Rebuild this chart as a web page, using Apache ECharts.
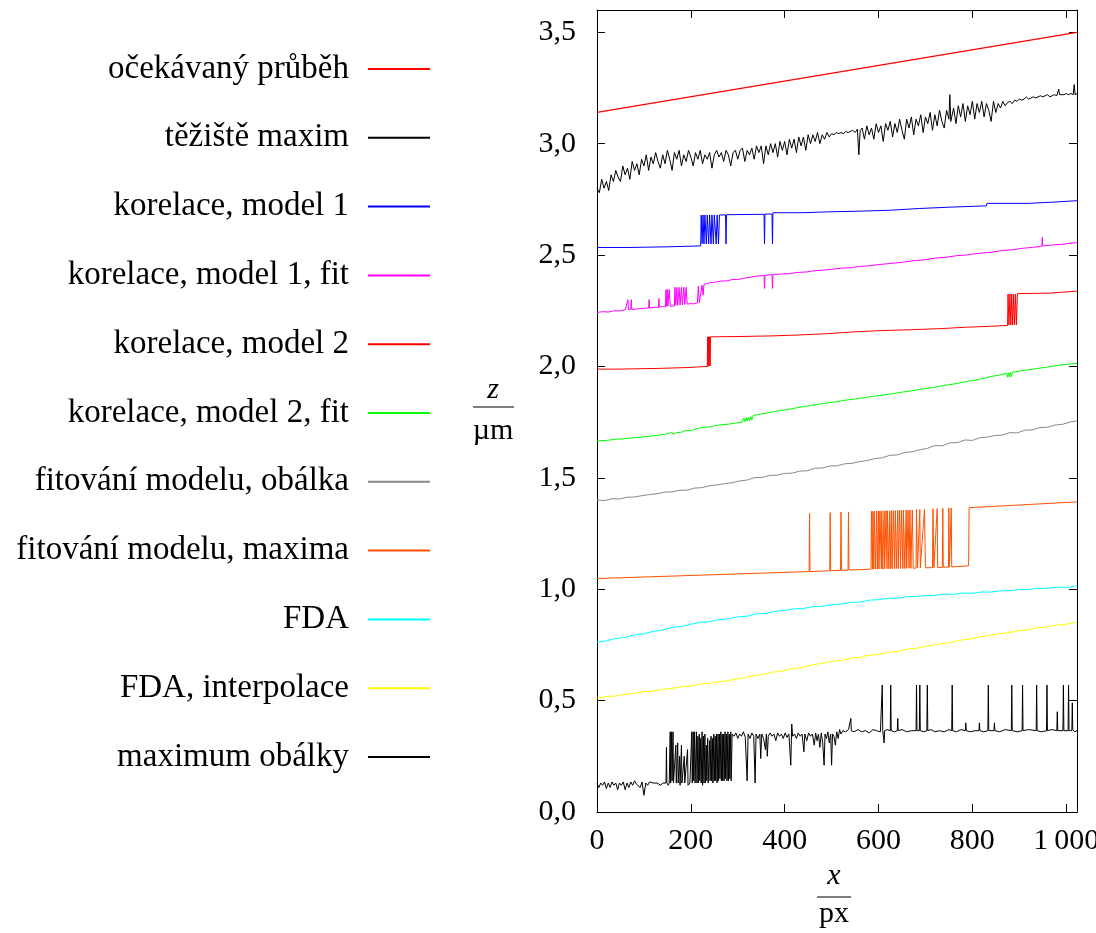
<!DOCTYPE html>
<html>
<head>
<meta charset="utf-8">
<script src="https://cdn.jsdelivr.net/npm/echarts@6/dist/echarts.min.js"></script>
<style>html,body{margin:0;padding:0;background:#fff;overflow:hidden}#c{width:1096px;height:933px}</style>
</head>
<body>
<div id="c"></div>
<script>
// ---- data (x in px, z in µm) ----
const seriesNames = ["očekávaný průběh","těžiště maxim","korelace, model 1","korelace, model 1, fit","korelace, model 2","korelace, model 2, fit","fitování modelu, obálka","fitování modelu, maxima","FDA","FDA, interpolace","maximum obálky"];
const seriesColors = ["#ff0000","#000000","#0000ff","#ff00ff","#ff0000","#00ff00","#888888","#ff5000","#00ffff","#ffff00","#000000"];
const xTickLabels = {1000: "1\u2009000"};

const expected = [[0,3.14],[1023,3.50]];
const tezisteMaxim = [[0,2.80],[5,2.78],[10,2.84],[15,2.80],[20,2.83],[25,2.79],[30,2.86],[35,2.83],[40,2.88],[45,2.85],[50,2.83],[55,2.90],[60,2.86],[65,2.89],[70,2.84],[75,2.92],[80,2.88],[85,2.91],[90,2.86],[95,2.93],[100,2.90],[105,2.95],[110,2.88],[115,2.94],[120,2.91],[125,2.96],[130,2.92],[135,2.89],[140,2.95],[145,2.91],[150,2.97],[155,2.93],[160,2.88],[165,2.96],[170,2.93],[175,2.97],[180,2.90],[185,2.95],[190,2.92],[195,2.97],[200,2.94],[205,2.90],[210,2.96],[215,2.93],[220,2.97],[225,2.91],[230,2.95],[235,2.93],[240,2.96],[245,2.89],[250,2.95],[255,2.97],[260,2.94],[265,2.96],[270,2.92],[275,2.97],[280,2.95],[285,2.90],[290,2.96],[295,2.97],[300,2.93],[305,2.97],[310,2.98],[315,2.92],[320,2.97],[325,2.95],[330,2.98],[335,2.93],[340,2.99],[345,2.96],[350,2.99],[355,2.91],[360,2.99],[365,2.95],[370,3.00],[375,2.96],[380,3.00],[385,2.94],[390,3.01],[395,2.97],[400,3.01],[405,2.95],[410,3.02],[415,2.98],[420,3.02],[425,2.96],[430,3.03],[435,2.99],[440,3.03],[445,2.97],[450,3.04],[455,3.00],[460,3.04],[465,3.01],[470,3.05],[475,3.00],[480,3.04],[485,3.02],[490,3.05],[495,3.03],[500,3.045],[505,3.04],[510,3.05],[515,3.045],[520,3.05],[525,3.045],[530,3.055],[535,3.05],[540,3.055],[545,3.06],[550,3.05],[555,3.065],[558,2.95],[561,3.06],[565,3.07],[570,3.02],[575,3.08],[580,3.04],[585,3.07],[590,3.02],[595,3.09],[600,3.05],[605,3.08],[610,3.01],[615,3.09],[620,3.06],[625,3.10],[630,3.03],[635,3.09],[640,3.05],[645,3.11],[650,3.06],[655,3.02],[660,3.11],[665,3.07],[670,3.12],[675,3.04],[680,3.11],[685,3.08],[690,3.13],[695,3.05],[700,3.12],[705,3.09],[710,3.14],[715,3.06],[720,3.13],[725,3.08],[730,3.15],[735,3.10],[740,3.07],[745,3.15],[750,3.11],[752,3.22],[754,3.10],[760,3.16],[765,3.09],[770,3.17],[775,3.12],[780,3.18],[785,3.10],[790,3.17],[795,3.13],[800,3.19],[805,3.11],[810,3.18],[815,3.14],[820,3.19],[825,3.12],[830,3.18],[835,3.15],[840,3.10],[845,3.19],[850,3.14],[855,3.18],[860,3.16],[865,3.19],[870,3.17],[875,3.185],[880,3.19],[885,3.18],[890,3.195],[895,3.19],[900,3.20],[905,3.195],[910,3.20],[915,3.21],[920,3.20],[925,3.205],[930,3.21],[935,3.205],[940,3.21],[945,3.215],[950,3.21],[955,3.215],[960,3.22],[965,3.21],[970,3.215],[975,3.22],[980,3.215],[984,3.245],[986,3.22],[990,3.215],[995,3.22],[1000,3.225],[1005,3.22],[1010,3.225],[1015,3.22],[1017,3.265],[1019,3.22],[1023,3.225]];
const korelaceM1 = [[0,2.534],[68,2.534],[69,2.537],[150,2.537],[151,2.541],[221,2.541],[222,2.679],[224,2.551],[226,2.68],[228,2.55],[230,2.68],[233,2.55],[235,2.68],[238,2.55],[240,2.68],[243,2.55],[245,2.68],[248,2.55],[250,2.68],[254,2.55],[256,2.68],[259,2.55],[261,2.68],[274,2.68],[275,2.55],[276,2.681],[356,2.683],[357,2.55],[358,2.684],[373,2.684],[374,2.55],[375,2.690],[437,2.690],[438,2.694],[494,2.694],[495,2.697],[559,2.697],[560,2.701],[623,2.701],[624,2.709],[687,2.709],[688,2.715],[752,2.715],[753,2.721],[830,2.721],[831,2.732],[919,2.732],[920,2.738],[976,2.738],[977,2.742],[1023,2.744]];
const korelaceM1Fit = [[0,2.242],[12,2.246],[24,2.244],[36,2.250],[48,2.249],[60,2.254],[64,2.253],[66,2.30],[67,2.255],[72,2.256],[73,2.30],[74,2.256],[86,2.258],[98,2.261],[110,2.262],[111,2.30],[112,2.262],[122,2.266],[131,2.265],[132,2.305],[133,2.267],[146,2.268],[147,2.345],[148,2.27],[150,2.345],[151,2.27],[154,2.345],[156,2.27],[165,2.272],[166,2.355],[168,2.274],[170,2.355],[172,2.275],[175,2.355],[177,2.276],[180,2.355],[182,2.277],[185,2.355],[187,2.278],[190,2.355],[192,2.28],[200,2.282],[207,2.281],[214,2.285],[216,2.36],[218,2.287],[224,2.365],[226,2.32],[228,2.368],[240,2.376],[252,2.378],[264,2.383],[276,2.384],[288,2.390],[300,2.390],[312,2.396],[326,2.400],[339,2.405],[356,2.409],[357,2.35],[358,2.409],[373,2.412],[374,2.35],[375,2.412],[392,2.415],[410,2.417],[428,2.422],[446,2.424],[464,2.430],[481,2.432],[500,2.436],[520,2.441],[540,2.443],[560,2.449],[580,2.452],[600,2.457],[624,2.462],[648,2.467],[672,2.474],[696,2.478],[720,2.486],[744,2.490],[766,2.497],[790,2.501],[814,2.508],[838,2.512],[862,2.520],[886,2.524],[909,2.531],[928,2.534],[948,2.540],[949,2.579],[950,2.541],[970,2.545],[990,2.548],[1008,2.553],[1023,2.556]];
const korelaceM2 = [[0,1.988],[46,1.988],[47,1.991],[128,1.991],[129,1.995],[192,1.995],[193,2.000],[235,2.000],[236,2.133],[237,2.000],[238,2.133],[239,2.002],[240,2.133],[241,2.002],[242,2.133],[243,2.134],[292,2.134],[293,2.137],[371,2.137],[372,2.141],[428,2.141],[429,2.147],[489,2.147],[490,2.155],[546,2.155],[547,2.161],[607,2.161],[608,2.165],[671,2.165],[672,2.170],[735,2.170],[736,2.176],[785,2.176],[786,2.180],[835,2.180],[836,2.184],[875,2.184],[876,2.325],[878,2.186],[880,2.325],[882,2.186],[884,2.325],[886,2.186],[888,2.325],[890,2.186],[892,2.325],[894,2.186],[896,2.327],[964,2.329],[965,2.334],[1023,2.338]];
const korelaceM2Fit = [[0,1.666],[20,1.668],[40,1.673],[60,1.676],[80,1.680],[100,1.684],[129,1.691],[150,1.697],[160,1.704],[162,1.695],[170,1.703],[180,1.705],[190,1.713],[192,1.706],[200,1.711],[221,1.726],[240,1.728],[260,1.737],[280,1.741],[300,1.747],[310,1.751],[313,1.768],[315,1.752],[318,1.770],[320,1.754],[323,1.772],[325,1.756],[328,1.775],[330,1.760],[333,1.780],[335,1.783],[360,1.790],[385,1.800],[410,1.808],[435,1.818],[460,1.826],[481,1.834],[505,1.840],[530,1.849],[555,1.855],[580,1.864],[600,1.869],[624,1.876],[648,1.884],[672,1.891],[696,1.900],[720,1.907],[744,1.916],[766,1.923],[790,1.933],[815,1.942],[840,1.955],[860,1.962],[873,1.970],[875,1.952],[877,1.972],[879,1.953],[881,1.973],[883,1.954],[885,1.974],[887,1.975],[910,1.982],[935,1.990],[960,1.997],[985,2.006],[1005,2.010],[1023,2.015]];
const obalkaFit = [[0,1.400],[16,1.398],[32,1.406],[48,1.405],[64,1.413],[80,1.414],[96,1.420],[112,1.425],[128,1.428],[144,1.436],[160,1.437],[176,1.444],[192,1.445],[208,1.454],[224,1.456],[240,1.465],[256,1.468],[272,1.474],[288,1.478],[304,1.486],[320,1.490],[336,1.501],[352,1.502],[368,1.511],[384,1.512],[400,1.520],[416,1.521],[432,1.530],[448,1.532],[464,1.543],[480,1.544],[496,1.553],[512,1.554],[528,1.563],[544,1.565],[560,1.573],[576,1.578],[592,1.586],[608,1.590],[624,1.601],[640,1.603],[656,1.614],[672,1.617],[688,1.626],[704,1.632],[720,1.645],[736,1.644],[752,1.657],[768,1.658],[784,1.670],[800,1.668],[816,1.680],[832,1.683],[848,1.690],[864,1.692],[880,1.703],[896,1.702],[912,1.714],[928,1.715],[944,1.726],[960,1.727],[976,1.737],[992,1.740],[1008,1.750],[1023,1.756]];
const maximaFit = [[0,1.048],[452,1.079],[453,1.340],[454,1.079],[496,1.083],[497,1.344],[498,1.083],[519,1.085],[520,1.346],[521,1.085],[535,1.086],[536,1.347],[537,1.086],[584,1.090],[585,1.35],[587,1.09],[588,1.35],[590,1.09],[591,1.35],[594,1.09],[596,1.351],[598,1.09],[600,1.351],[601,1.091],[603,1.351],[606,1.091],[607,1.352],[609,1.091],[612,1.352],[613,1.091],[616,1.352],[618,1.092],[619,1.352],[622,1.092],[624,1.352],[626,1.092],[628,1.353],[629,1.092],[632,1.353],[634,1.092],[636,1.353],[638,1.093],[641,1.354],[642,1.093],[645,1.354],[647,1.093],[649,1.354],[652,1.093],[653,1.355],[656,1.093],[659,1.355],[660,1.094],[663,1.355],[665,1.094],[667,1.356],[669,1.094],[672,1.356],[674,1.094],[680,1.095],[681,1.358],[683,1.095],[688,1.358],[689,1.096],[698,1.359],[700,1.096],[715,1.097],[716,1.361],[718,1.097],[725,1.362],[726,1.098],[736,1.098],[737,1.363],[738,1.099],[749,1.099],[750,1.364],[751,1.099],[755,1.364],[756,1.100],[792,1.105],[793,1.366],[1023,1.392]];
const fda = [[0,0.762],[20,0.768],[40,0.779],[60,0.784],[80,0.795],[100,0.800],[120,0.811],[140,0.817],[160,0.829],[180,0.833],[200,0.843],[220,0.851],[240,0.854],[260,0.864],[280,0.867],[300,0.876],[320,0.879],[340,0.890],[360,0.891],[380,0.901],[400,0.905],[420,0.912],[440,0.913],[460,0.922],[480,0.923],[500,0.931],[520,0.933],[540,0.941],[560,0.942],[580,0.951],[600,0.953],[620,0.959],[640,0.960],[660,0.966],[680,0.967],[700,0.971],[720,0.972],[740,0.978],[760,0.977],[780,0.983],[800,0.982],[820,0.988],[840,0.987],[860,0.993],[880,0.993],[900,0.999],[920,0.998],[940,1.005],[960,1.004],[980,1.009],[1000,1.008],[1023,1.015]];
const fdaInterp = [[0,0.511],[20,0.518],[40,0.521],[60,0.529],[80,0.533],[100,0.540],[120,0.543],[140,0.551],[160,0.554],[180,0.563],[200,0.566],[220,0.574],[240,0.577],[260,0.585],[275,0.588],[295,0.597],[315,0.602],[335,0.613],[355,0.617],[375,0.628],[395,0.632],[415,0.644],[435,0.647],[455,0.659],[481,0.668],[500,0.676],[520,0.680],[540,0.690],[560,0.694],[580,0.704],[600,0.707],[620,0.717],[640,0.720],[660,0.731],[680,0.734],[695,0.742],[715,0.748],[735,0.757],[755,0.761],[775,0.771],[795,0.776],[815,0.786],[838,0.793],[858,0.801],[878,0.805],[898,0.814],[918,0.818],[938,0.827],[958,0.830],[978,0.839],[998,0.842],[1023,0.852]];
const maxObalky = [[0,0.13],[4,0.11],[8,0.13],[12,0.12],[16,0.135],[20,0.105],[24,0.13],[28,0.11],[32,0.135],[36,0.12],[40,0.13],[44,0.10],[48,0.13],[52,0.12],[56,0.135],[60,0.10],[64,0.13],[68,0.11],[72,0.135],[76,0.12],[80,0.14],[84,0.125],[88,0.13],[92,0.11],[96,0.135],[100,0.075],[104,0.13],[108,0.12],[112,0.135],[116,0.13],[120,0.13],[124,0.125],[128,0.13],[132,0.13],[136,0.12],[140,0.13],[144,0.13],[147,0.13],[148,0.29],[149,0.13],[152,0.12],[154,0.13],[156,0.36],[157,0.13],[159,0.36],[160,0.14],[162,0.36],[163,0.13],[166,0.13],[168,0.30],[169,0.13],[172,0.31],[173,0.13],[176,0.25],[177,0.12],[180,0.30],[181,0.13],[184,0.13],[186,0.25],[187,0.13],[190,0.13],[193,0.28],[194,0.12],[198,0.13],[202,0.36],[203,0.13],[205,0.36],[206,0.14],[208,0.36],[209,0.13],[212,0.36],[213,0.13],[215,0.34],[216,0.13],[218,0.35],[219,0.14],[221,0.33],[222,0.13],[224,0.36],[225,0.12],[227,0.34],[228,0.13],[230,0.35],[231,0.13],[233,0.30],[234,0.14],[236,0.33],[237,0.13],[240,0.32],[241,0.14],[243,0.34],[244,0.14],[246,0.33],[247,0.13],[249,0.35],[250,0.14],[252,0.34],[253,0.14],[255,0.35],[256,0.13],[258,0.35],[259,0.14],[261,0.35],[262,0.15],[264,0.36],[265,0.14],[267,0.35],[268,0.14],[270,0.35],[271,0.14],[273,0.36],[274,0.15],[276,0.35],[277,0.14],[279,0.36],[280,0.14],[282,0.35],[283,0.15],[285,0.36],[286,0.14],[288,0.35],[292,0.34],[296,0.355],[300,0.33],[304,0.35],[308,0.34],[312,0.36],[316,0.335],[320,0.14],[322,0.35],[326,0.33],[330,0.355],[334,0.34],[337,0.13],[339,0.35],[343,0.33],[347,0.35],[349,0.24],[351,0.35],[355,0.33],[359,0.28],[361,0.35],[363,0.25],[365,0.34],[369,0.355],[373,0.34],[377,0.35],[381,0.32],[385,0.355],[389,0.34],[393,0.35],[397,0.33],[401,0.355],[405,0.335],[409,0.35],[413,0.21],[415,0.395],[417,0.34],[421,0.35],[425,0.33],[429,0.355],[433,0.34],[437,0.35],[441,0.27],[443,0.35],[447,0.32],[451,0.355],[455,0.34],[459,0.35],[463,0.30],[466,0.355],[469,0.32],[472,0.35],[475,0.29],[478,0.355],[481,0.31],[484,0.21],[486,0.35],[489,0.33],[492,0.36],[495,0.31],[498,0.35],[500,0.21],[502,0.35],[505,0.34],[508,0.30],[511,0.36],[514,0.33],[517,0.37],[520,0.35],[524,0.365],[530,0.36],[536,0.37],[540,0.365],[541,0.42],[542,0.365],[548,0.36],[556,0.37],[564,0.36],[572,0.365],[580,0.355],[588,0.37],[596,0.365],[604,0.36],[607,0.365],[608,0.57],[609,0.365],[612,0.31],[613,0.365],[618,0.37],[625,0.365],[626,0.57],[627,0.365],[634,0.36],[640,0.365],[641,0.42],[642,0.365],[650,0.37],[660,0.36],[670,0.365],[680,0.365],[681,0.57],[682,0.365],[687,0.365],[688,0.57],[689,0.365],[696,0.36],[703,0.365],[704,0.57],[705,0.365],[712,0.37],[720,0.36],[730,0.365],[740,0.36],[750,0.37],[756,0.365],[757,0.57],[758,0.365],[766,0.36],[776,0.37],[785,0.365],[786,0.40],[787,0.365],[796,0.36],[806,0.365],[814,0.365],[815,0.40],[816,0.365],[824,0.36],[833,0.365],[834,0.57],[835,0.365],[846,0.365],[847,0.40],[848,0.365],[858,0.36],[870,0.37],[883,0.365],[884,0.57],[885,0.365],[896,0.36],[906,0.365],[907,0.57],[908,0.365],[920,0.37],[936,0.365],[937,0.57],[938,0.365],[948,0.36],[958,0.365],[959,0.57],[960,0.365],[970,0.37],[980,0.365],[981,0.45],[982,0.365],[993,0.365],[994,0.57],[995,0.365],[1004,0.365],[1005,0.57],[1006,0.365],[1012,0.365],[1013,0.49],[1014,0.37],[1018,0.36],[1023,0.365]];

const seriesData = [expected, tezisteMaxim, korelaceM1, korelaceM1Fit, korelaceM2, korelaceM2Fit, obalkaFit, maximaFit, fda, fdaInterp, maxObalky];

// ---- chart ----
const FONT = 'Liberation Serif';
const chart = echarts.init(document.getElementById('c'), null, {renderer: 'canvas', width: 1096, height: 933});
const fmtX = v => (xTickLabels[v] !== undefined ? xTickLabels[v] : String(v));
const fmtY = v => v.toFixed(1).replace('.', ',');
const axisCommon = {
  type: 'value',
  axisLine: {show: true, onZero: false, lineStyle: {color: '#000', width: 1}},
  axisTick: {show: true, inside: true, length: 8, lineStyle: {color: '#000', width: 1}},
  splitLine: {show: false}
};
const option = {
  animation: false,
  backgroundColor: '#fff',
  grid: {left: 597, right: 19, top: 10, bottom: 121, containLabel: false, outerBoundsMode: 'none'},
  legend: {
    data: seriesNames,
    orient: 'vertical',
    align: 'right',
    right: 661,
    top: 47,
    icon: 'rect',
    itemWidth: 62,
    itemHeight: 2,
    itemGap: 34.8,
    selectedMode: false,
    textStyle: {fontFamily: FONT, fontSize: 33, color: '#000', lineHeight: 34, padding: [0, 14, 0, 0]}
  },
  xAxis: [
    Object.assign({}, axisCommon, {
      min: 0, max: 1023, interval: 200, position: 'bottom',
      axisLabel: {show: true, margin: 14, fontFamily: FONT, fontSize: 30, color: '#000', formatter: fmtX, showMaxLabel: false, hideOverlap: false}
    }),
    Object.assign({}, axisCommon, {
      min: 0, max: 1023, interval: 200, position: 'top',
      axisLabel: {show: false}
    })
  ],
  yAxis: [
    Object.assign({}, axisCommon, {
      min: 0, max: 3.6, interval: 0.5, position: 'left',
      axisLabel: {show: true, margin: 21, fontFamily: FONT, fontSize: 30, color: '#000', formatter: fmtY, showMaxLabel: false}
    }),
    Object.assign({}, axisCommon, {
      min: 0, max: 3.6, interval: 0.5, position: 'right',
      axisLabel: {show: false}
    })
  ],
  graphic: [
    {type: 'text', style: {text: 'z', x: 493, y: 390, fontFamily: FONT, fontStyle: 'italic', fontSize: 30, fill: '#000', align: 'center', verticalAlign: 'middle'}},
    {type: 'line', shape: {x1: 473, y1: 407, x2: 514, y2: 407}, style: {stroke: '#000', lineWidth: 1.2}},
    {type: 'text', style: {text: 'µm', x: 493, y: 431, fontFamily: FONT, fontSize: 30, fill: '#000', align: 'center', verticalAlign: 'middle'}},
    {type: 'text', style: {text: 'x', x: 834, y: 876, fontFamily: FONT, fontStyle: 'italic', fontSize: 30, fill: '#000', align: 'center', verticalAlign: 'middle'}},
    {type: 'line', shape: {x1: 817, y1: 897, x2: 851, y2: 897}, style: {stroke: '#000', lineWidth: 1.2}},
    {type: 'text', style: {text: 'px', x: 834, y: 914, fontFamily: FONT, fontSize: 30, fill: '#000', align: 'center', verticalAlign: 'middle'}}
  ],
  series: seriesNames.map((name, i) => ({
    name: name,
    type: 'line',
    data: seriesData[i],
    showSymbol: false,
    symbol: 'none',
    sampling: null,
    clip: true,
    color: seriesColors[i],
    lineStyle: {color: seriesColors[i], width: i === 0 ? 1.3 : 1},
    emphasis: {disabled: true},
    z: 2
  }))
};
chart.setOption(option);
</script>
</body>
</html>
